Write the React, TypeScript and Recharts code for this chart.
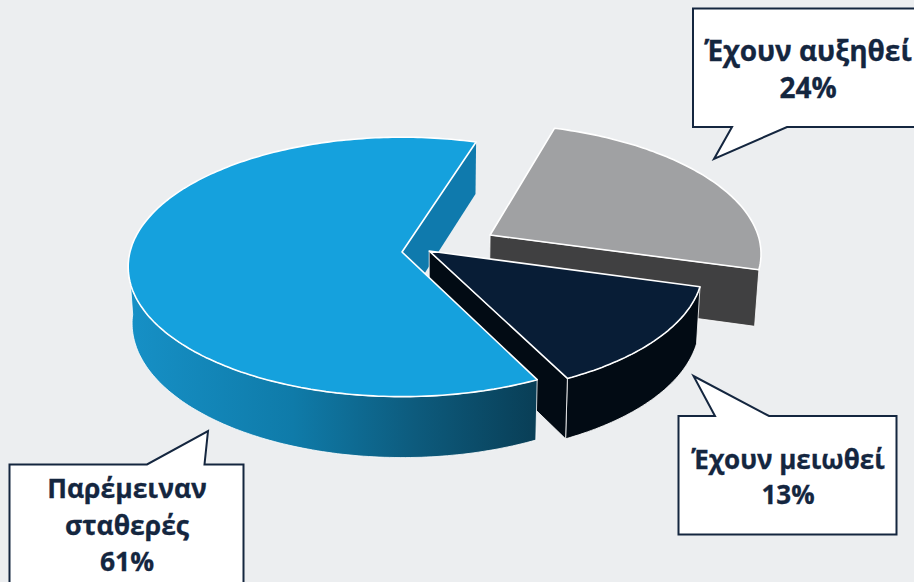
import { Pie, PieChart } from "recharts";

const CATEGORIES = ["Έχουν αυξηθεί", "Έχουν μειωθεί", "Παρέμειναν σταθερές"];
const VALUES = [24, 13, 61];

const TOP_COLORS = ["#A0A1A3", "#081D36", "#15A1DD"];
const WALL_COLORS = ["#404041", "#020B14", "url(#blueWall)"];
const BLUE_CUT = "#0F7AAD";
const INK = "#14263F";

// each slice is pulled out of the pie on the plane of the disc
const EXPLODE = [
  { x: 0.329, y: -0.135 },
  { x: 0.1, y: -0.008 },
  { x: 0, y: 0 },
];

const CX = 402;
const CY = 252;
const RADIUS = 272;
const TILT = 128; // vertical radius of the disc
const PERSPECTIVE = -0.115;

const data = CATEGORIES.map((name, i) => ({ name, value: VALUES[i] }));

type Pt = [number, number];

function project(u: number, v: number): Pt {
  const d = 1 + PERSPECTIVE * v;
  return [CX + (RADIUS * u) / d, CY + (TILT * v) / d];
}

// same point on the underside of the disc
function drop([x, y]: Pt): Pt {
  return [x + (430 - x) * 0.013, y + 52 + (y - 141) * 0.035];
}

function toPath(pts: Pt[]) {
  return "M" + pts.map((p) => `${p[0].toFixed(1)},${p[1].toFixed(1)}`).join("L") + "Z";
}

function SliceGeometry(props: any) {
  const { startAngle, endAngle, index } = props;
  const off = EXPLODE[index];
  const apex = project(off.x, off.y);
  const arc: Pt[] = [];
  const front: Pt[] = [];
  const steps = Math.ceil(Math.abs(endAngle - startAngle));
  for (let i = 0; i <= steps; i++) {
    const a = ((startAngle + ((endAngle - startAngle) * i) / steps) * Math.PI) / 180;
    const p = project(Math.cos(a) + off.x, -Math.sin(a) + off.y);
    arc.push(p);
    // only the near half of the rim shows a wall
    if (-Math.sin(a) > 0.05) front.push(p);
  }
  const last = arc[arc.length - 1];
  return {
    index,
    top: toPath([apex, ...arc]),
    wall: toPath([...front, ...front.map(drop).reverse()]),
    cut: toPath([apex, last, drop(last), drop(apex)]),
  };
}

// the cut face of the big slice sits behind the navy slice
function BackLayer(props: any) {
  const g = SliceGeometry(props);
  if (g.index !== 2) return <g />;
  return <path d={g.cut} fill={BLUE_CUT} />;
}

function FrontLayer(props: any) {
  const g = SliceGeometry(props);
  return (
    <g>
      {g.index === 2 && (
        <defs>
          <linearGradient id="blueWall" gradientUnits="userSpaceOnUse" x1="130" y1="0" x2="537" y2="0">
            <stop offset="0" stopColor="#1690C6" />
            <stop offset="0.4" stopColor="#0F7BA9" />
            <stop offset="0.7" stopColor="#0D5B7D" />
            <stop offset="1" stopColor="#093E56" />
          </linearGradient>
        </defs>
      )}
      {g.index !== 0 && <path d={g.wall} fill={WALL_COLORS[g.index]} stroke="#fff" strokeWidth={1} strokeOpacity={0.8} />}
      {g.index !== 2 && <path d={g.cut} fill={WALL_COLORS[g.index]} stroke="#fff" strokeWidth={1} strokeOpacity={0.8} />}
      <path d={g.top} fill={TOP_COLORS[g.index]} stroke="#fff" strokeWidth={1.6} strokeLinejoin="round" />
    </g>
  );
}

function Callout({ outline, lines, baselines, center, size }: any) {
  return (
    <g>
      <path d={outline} fill="#fff" stroke={INK} strokeWidth={2} strokeLinejoin="miter" />
      {lines.map((t: string, i: number) => (
        <text key={t} x={center} y={baselines[i]} textAnchor="middle" fontFamily="'Open Sans'" fontWeight={700} fontSize={size} fill={INK} stroke={INK} strokeWidth={0.3}>
          {t}
        </text>
      ))}
    </g>
  );
}

export default function App() {
  return (
    <div style={{ position: "fixed", left: 0, top: 0, width: 914, height: 582, background: "#ECEEF0", overflow: "hidden" }}>
      <PieChart width={914} height={582} margin={{ top: 0, right: 0, bottom: 0, left: 0 }}>
        <Pie
          data={data}
          dataKey="value"
          cx={CX}
          cy={CY}
          outerRadius={RADIUS}
          startAngle={72.4}
          endAngle={-287.6}
          stroke="none"
          isAnimationActive={false}
          shape={BackLayer}
        />
        <Pie
          data={data}
          dataKey="value"
          cx={CX}
          cy={CY}
          outerRadius={RADIUS}
          startAngle={72.4}
          endAngle={-287.6}
          stroke="none"
          isAnimationActive={false}
          shape={FrontLayer}
        />
      </PieChart>
      <svg width={914} height={582} style={{ position: "absolute", left: 0, top: 0 }}>
        <Callout
          outline="M693,8.5L930,8.5L930,127L787,127L714,159L732,127L693,127Z"
          lines={[CATEGORIES[0], `${VALUES[0]}%`]}
          baselines={[61, 98]}
          center={808}
          size={28}
        />
        <Callout
          outline="M678.5,416L715,416L693.5,376L769,416L896.5,416L896.5,534.5L678.5,534.5Z"
          lines={[CATEGORIES[1], `${VALUES[1]}%`]}
          baselines={[469, 504]}
          center={788}
          size={26}
        />
        <Callout
          outline="M9.5,464.5L147,464.5L208,431L204.5,464.5L243.5,464.5L243.5,600L9.5,600Z"
          lines={["Παρέμειναν", "σταθερές", `${VALUES[2]}%`]}
          baselines={[498, 535, 571]}
          center={127}
          size={26.5}
        />
      </svg>
    </div>
  );
}
